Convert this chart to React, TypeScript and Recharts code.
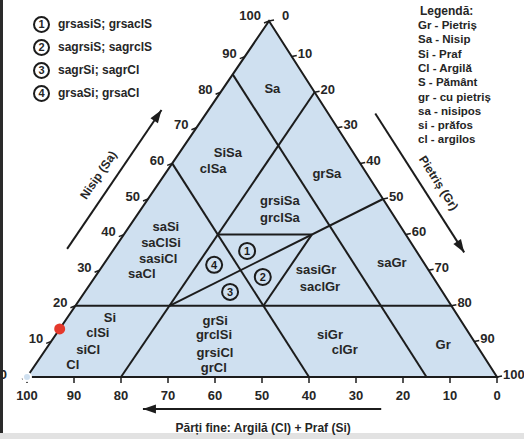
import { Area, ComposedChart, Scatter, XAxis, YAxis } from "recharts";

// ternary points are [sand %, gravel %]; fines = 100 - sand - gravel
const outline = [[0, 0], [100, 0], [0, 100], [0, 0], [100, 0]];
const boundaries = [
  [[20, 0], [20, 80]], // Sa = 20
  [[40, 20], [40, 40]], // Sa = 40
  [[0, 20], [80, 20]], // Gr = 20
  [[20, 40], [40, 40]], // Gr = 40
  [[60, 0], [0, 60]], // fines = 40
  [[85, 0], [0, 85]], // fines = 15
  [[20, 20], [50, 50]], // Sa = Gr
];
const percentTicks = [0, 10, 20, 30, 40, 50, 60, 70, 80, 90, 100];

const classNames = [
  "Sa", "SiSa", "clSa", "grSa", "grsiSa", "grclSa",
  "saSi", "saClSi", "sasiCl", "saCl",
  "Si", "clSi", "siCl", "Cl",
  "grSi", "grclSi", "grsiCl", "grCl",
  "sasiGr", "saclGr", "saGr", "siGr", "clGr", "Gr",
];
const classAnchors = [
  [81, 10.5], [63.2, 10.2], [58.7, 9.4], [57.3, 34.3], [49.7, 28.2], [44.9, 30.7],
  [42.4, 7.7], [37.9, 9], [33.4, 10.7], [29.2, 9.4],
  [16.6, 9.1], [12.4, 8.7], [7.6, 9.1], [3.4, 8],
  [16, 31.8], [11.8, 33.7], [7, 36.4], [2.8, 38.3],
  [30.1, 46], [25.3, 49.3], [32.3, 61], [11.8, 58.4], [7.6, 63.7], [9, 83.9],
];

const zoneNumbers = ["1", "2", "3", "4"];
const zoneAnchors = [[35.4, 28.6], [28.1, 35.7], [23.9, 30.9], [31.5, 23.6]];
const zoneCodes = ["grsasiS; grsaclS", "sagrsiS; sagrclS", "sagrSi; sagrCl", "grsaSi; grsaCl"];

const legendItems = [
  "Gr - Pietriș", "Sa - Nisip", "Si - Praf", "Cl - Argilă", "S - Pământ",
  "gr - cu pietriș", "sa - nisipos", "si - prăfos", "cl - argilos",
];

const sample = [[13.5, 0]];

const sandArrow = [[36, -10], [75, -10]];
const gravelArrow = [[74, 36], [35, 75]];
const finesArrow = [[-9, 80], [-9, 29.3]];
const titleTexts = ["Nisip (Sa)", "Pietriș (Gr)", "Părți fine: Argilă (Cl) + Praf (Si)"];
const titleAnchors = [[56.7, -14], [54.5, 59.5], [-14.3, 57.6]];

// layout of the triangle inside the 524x439 picture
const W = 524;
const H = 439;
const BASE_LEFT = 27;
const BASE_RIGHT = 497;
const BASE_Y = 377;
const APEX_X = 269;
const APEX_Y = 21;
const UX = (BASE_RIGHT - BASE_LEFT) / 100;
const UY = (BASE_Y - APEX_Y) / 100;
const SKEW = (APEX_X - BASE_LEFT) / (BASE_RIGHT - BASE_LEFT);
const X_DOMAIN = [-BASE_LEFT / UX, (W - BASE_LEFT) / UX];
const Y_DOMAIN = [-(H - BASE_Y) / UY, BASE_Y / UY];
const DEG = 180 / Math.PI;
const LEFT_ANGLE = Math.atan2(-(BASE_Y - APEX_Y), APEX_X - BASE_LEFT) * DEG;
const RIGHT_ANGLE = Math.atan2(BASE_Y - APEX_Y, BASE_RIGHT - APEX_X) * DEG;

const INK = "#1c1c1c";
const TEXT = "#262626";
const FILL = "#cfe0f0";
const FONT = '"Liberation Sans", Arial, sans-serif';

const toXY = ([s, g]: number[]) => ({ x: g + s * SKEW, y: s });

const noShape = () => <g />;

const leftTick = (p: any) => {
  const v = p.payload.label;
  return (
    <g>
      <line x1={p.cx} y1={p.cy} x2={p.cx - 5} y2={p.cy + 2} stroke={INK} strokeWidth={1.5} />
      <text x={p.cx - (v === 0 ? 20 : 8)} y={p.cy - (v === 100 ? 6 : 3)} textAnchor="end"
        dominantBaseline="central" fontSize={13} fontWeight="bold" fill={TEXT} fontFamily={FONT}>
        {v}
      </text>
    </g>
  );
};

const rightTick = (p: any) => {
  const v = p.payload.label;
  return (
    <g>
      <line x1={p.cx} y1={p.cy} x2={p.cx + 5} y2={p.cy - 1} stroke={INK} strokeWidth={1.5} />
      <text x={p.cx + (v === 0 ? 13 : 6)} y={p.cy - (v === 0 ? 6 : 3)} textAnchor="start"
        dominantBaseline="central" fontSize={13} fontWeight="bold" fill={TEXT} fontFamily={FONT}>
        {v}
      </text>
    </g>
  );
};

const bottomTick = (p: any) => (
  <g>
    <line x1={p.cx} y1={p.cy} x2={p.cx} y2={p.cy + 6} stroke={INK} strokeWidth={1.5} />
    <text x={p.cx} y={p.cy + 18} textAnchor="middle" dominantBaseline="central"
      fontSize={13} fontWeight="bold" fill={TEXT} fontFamily={FONT}>
      {p.payload.label}
    </text>
  </g>
);

const classLabel = (p: any) => (
  <text x={p.cx} y={p.cy} textAnchor="middle" dominantBaseline="central"
    fontSize={13} fontWeight="bold" fill={TEXT} fontFamily={FONT}>
    {p.payload.name}
  </text>
);

const zoneLabel = (p: any) => (
  <g>
    <circle cx={p.cx} cy={p.cy} r={8} fill="none" stroke={INK} strokeWidth={2} />
    <text x={p.cx} y={p.cy + 0.5} textAnchor="middle" dominantBaseline="central"
      fontSize={11} fontWeight="bold" fill={INK} fontFamily={FONT}>
      {p.payload.name}
    </text>
  </g>
);

const sampleDot = (p: any) => <circle cx={p.cx} cy={p.cy} r={5.5} fill="#e5392c" />;

const arrowHead = (angle: number) => (p: any) =>
  p.payload.head ? (
    <polygon points="0,0 -13,-4.5 -13,4.5" fill={INK}
      transform={`translate(${p.cx},${p.cy}) rotate(${angle})`} />
  ) : (
    <g />
  );

const titleAngles = [LEFT_ANGLE, RIGHT_ANGLE, 0];
const titleLabel = (p: any) => (
  <text x={p.cx} y={p.cy} textAnchor="middle" dominantBaseline="central"
    transform={`rotate(${p.payload.angle}, ${p.cx}, ${p.cy})`}
    fontSize={12} fontWeight="bold" fill={TEXT} fontFamily={FONT}>
    {p.payload.name}
  </text>
);

const arrowData = (pts: number[][]) => pts.map((pt, i) => ({ ...toXY(pt), head: i === pts.length - 1 }));

export default function App() {
  const fillData = outline.slice(0, 3).map(toXY);
  const lineStyle = { stroke: INK, strokeWidth: 2, strokeLinejoin: "miter" as const };
  const arrows: [number[][], number][] = [
    [sandArrow, LEFT_ANGLE],
    [gravelArrow, RIGHT_ANGLE],
    [finesArrow, 180],
  ];

  return (
    <div style={{ position: "absolute", left: 0, top: 0, width: W, height: H, background: "#fff", overflow: "hidden", fontFamily: FONT }}>
      <div style={{ position: "absolute", left: 0, top: 0, width: 3, height: H, background: "#2a2a2a" }} />
      <div style={{ position: "absolute", left: 0, top: 433, width: W, height: 6, background: "#e2e2e2" }} />

      <ComposedChart width={W} height={H} data={fillData} margin={{ top: 0, right: 0, bottom: 0, left: 0 }}
        style={{ position: "absolute", left: 0, top: 0 }}>
        <XAxis type="number" dataKey="x" domain={X_DOMAIN} allowDataOverflow hide />
        <YAxis type="number" dataKey="y" domain={Y_DOMAIN} allowDataOverflow hide />
        <Area type="linear" dataKey="y" baseValue={0} fill={FILL} fillOpacity={1} stroke="none" isAnimationActive={false} />

        {boundaries.map((seg, i) => (
          <Scatter key={`b${i}`} data={seg.map(toXY)} line={lineStyle} shape={noShape} isAnimationActive={false} />
        ))}
        <Scatter data={outline.map(toXY)} line={lineStyle} shape={noShape} isAnimationActive={false} />

        {arrows.map(([pts, angle], i) => (
          <Scatter key={`a${i}`} data={arrowData(pts)} line={lineStyle} shape={arrowHead(angle)} isAnimationActive={false} />
        ))}

        <Scatter data={percentTicks.map((v) => ({ ...toXY([v, 0]), label: v }))} shape={leftTick} isAnimationActive={false} />
        <Scatter data={percentTicks.map((v) => ({ ...toXY([100 - v, v]), label: v }))} shape={rightTick} isAnimationActive={false} />
        <Scatter data={percentTicks.map((v) => ({ ...toXY([0, 100 - v]), label: v }))} shape={bottomTick} isAnimationActive={false} />

        <Scatter data={classNames.map((name, i) => ({ ...toXY(classAnchors[i]), name }))} shape={classLabel} isAnimationActive={false} />
        <Scatter data={zoneNumbers.map((name, i) => ({ ...toXY(zoneAnchors[i]), name }))} shape={zoneLabel} isAnimationActive={false} />
        <Scatter data={titleTexts.map((name, i) => ({ ...toXY(titleAnchors[i]), name, angle: titleAngles[i] }))} shape={titleLabel} isAnimationActive={false} />
        <Scatter data={sample.map(toXY)} shape={sampleDot} isAnimationActive={false} />
      </ComposedChart>

      {zoneCodes.map((code, i) => (
        <div key={code} style={{ position: "absolute", left: 33, top: 16 + i * 23, height: 16, display: "flex", alignItems: "center", color: TEXT, fontSize: 12, fontWeight: "bold", whiteSpace: "nowrap" }}>
          <span style={{ width: 13, height: 13, border: `2px solid ${INK}`, borderRadius: "50%", display: "inline-flex", alignItems: "center", justifyContent: "center", fontSize: 11, marginRight: 8 }}>
            {zoneNumbers[i]}
          </span>
          {code}
        </div>
      ))}

      <div style={{ position: "absolute", left: 420, top: 4, fontSize: 12, fontWeight: "bold", color: TEXT, lineHeight: "14px" }}>
        Legendă:
      </div>
      {legendItems.map((item, i) => (
        <div key={item} style={{ position: "absolute", left: 418, top: 18 + i * 14.3, fontSize: 11.5, fontWeight: "bold", color: TEXT, lineHeight: "14px", whiteSpace: "nowrap" }}>
          {item}
        </div>
      ))}
    </div>
  );
}
